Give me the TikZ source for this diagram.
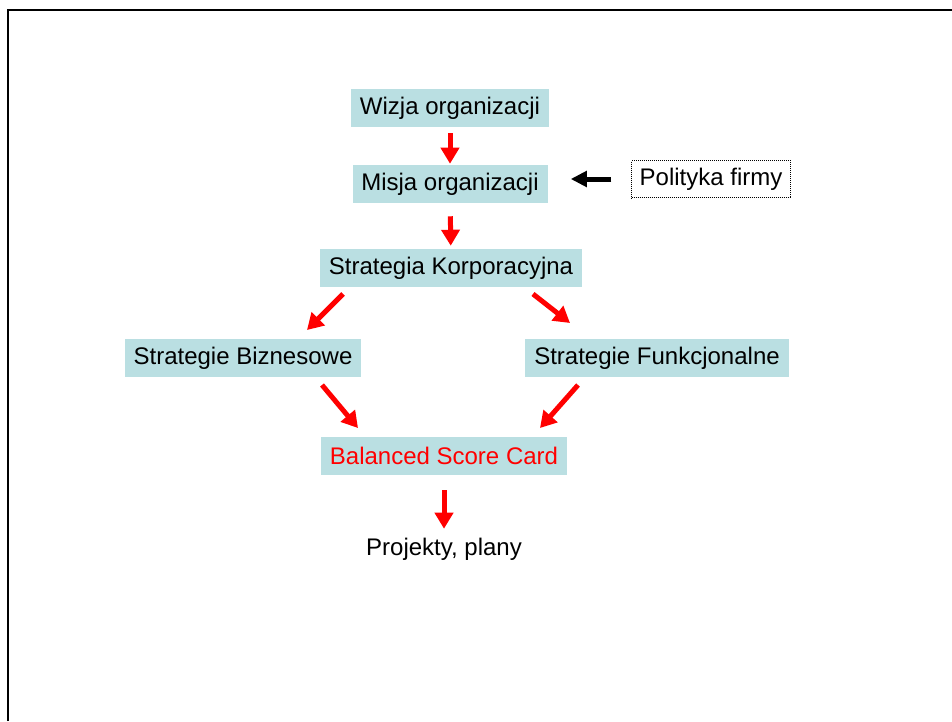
\documentclass[tikz,border=0pt]{standalone}
\usepackage{fontspec}
\setmainfont{Liberation Sans}
\usetikzlibrary{arrows.meta,positioning,calc}
\definecolor{boxteal}{RGB}{186,223,226}
\definecolor{arrowred}{RGB}{255,0,0}
\tikzset{
    step box/.style={fill=boxteal, minimum height=28.5pt, inner xsep=6.6pt, inner ysep=0pt,
                     font=\fontsize{18}{21}\selectfont},
    side box/.style={draw, densely dotted, line width=0.5pt, minimum height=28pt, inner xsep=6pt,
                     inner ysep=0pt, font=\fontsize{18}{21}\selectfont},
    plain text/.style={minimum height=28.5pt, inner ysep=0pt, font=\fontsize{18}{21}\selectfont},
    flow/.style={draw=arrowred, line width=3.75pt, -{Triangle[width=13.5pt,length=12pt]}},
    feed/.style={draw=black, line width=3.75pt, -{Triangle[width=11.5pt,length=12pt]}},
    frame/.style={line width=1.5pt},
}
\begin{document}
\begin{tikzpicture}[x=0.75pt, y=-0.75pt]
    \useasboundingbox (0,0) rectangle (952,721);

    % Frame
    \draw[frame] (8,721) -- (8,10) -- (952,10);

    % Vision and mission
    \node[step box] (wizja) at (450,108) {Wizja organizacji};
    \node[step box] (misja) at (450,184) {Misja organizacji};
    \node[side box] (polityka) at (711,179) {Polityka firmy};

    % Corporate strategy
    \node[step box] (korp) at (451,268) {Strategia Korporacyjna};

    % Business and functional strategies
    \node[step box] (biz) at (243,358) {Strategie Biznesowe};
    \node[step box] (funk) at (657,358) {Strategie Funkcjonalne};

    % Balanced score card
    \node[step box, text=arrowred] (bsc) at (444,456) {Balanced Score Card};
    \node[plain text] (proj) at (444,549) {Projekty, plany};

    % Vertical arrows
    \draw[flow, shorten <=4.5pt, shorten >=0.75pt] (wizja) -- (misja);
    \draw[flow, shorten <=9.75pt, shorten >=2.25pt] (misja) -- (korp);
    \draw[feed, shorten <=15pt, shorten >=17.25pt] (polityka.west) -- (polityka.west -| misja.east);

    % Diagonal arrows
    \coordinate (kb1) at (343,294);
    \coordinate (kb2) at (307,330);
    \coordinate (kf1) at (533,294);
    \coordinate (kf2) at (570,323);
    \coordinate (bb1) at (322,385);
    \coordinate (bb2) at (358,428);
    \coordinate (fb1) at (578,385);
    \coordinate (fb2) at (540,428);
    \draw[flow] (kb1) -- (kb2);
    \draw[flow] (kf1) -- (kf2);
    \draw[flow] (bb1) -- (bb2);
    \draw[flow] (fb1) -- (fb2);

    % To projects
    \draw[flow, shorten <=11.25pt, shorten >=0.75pt] (bsc.south) -- (proj.north);
\end{tikzpicture}
\end{document}
